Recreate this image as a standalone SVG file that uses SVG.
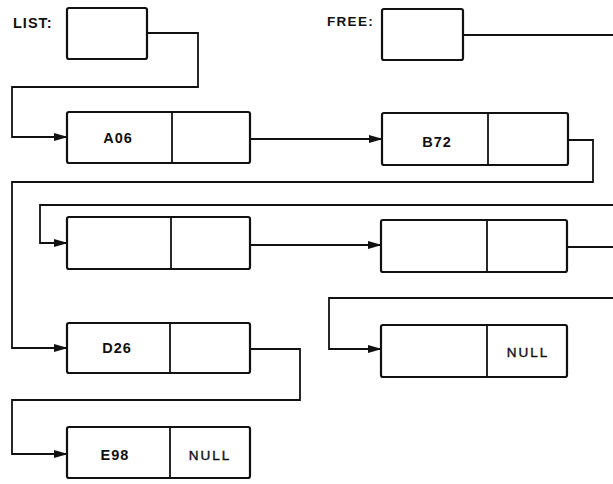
<svg xmlns="http://www.w3.org/2000/svg" width="613" height="484" viewBox="0 0 613 484">
<style>
.box{fill:#fff;stroke:#111;stroke-width:2.2}
.div{stroke:#111;stroke-width:1.8}
.conn{fill:none;stroke:#111;stroke-width:1.8}
.t{font-family:"Liberation Sans",Arial,sans-serif;font-size:14.5px;font-weight:bold;fill:#111;letter-spacing:1px}
.n{font-family:"Liberation Sans",Arial,sans-serif;font-size:13.5px;fill:#111;stroke:#111;stroke-width:0.4;letter-spacing:2px}
</style>
<defs>
<marker id="arr" markerWidth="14" markerHeight="9" refX="13" refY="4.5" orient="auto" markerUnits="userSpaceOnUse">
<path d="M0,0.5 L14,4.5 L0,8.5 Z" fill="#111"/>
</marker>
</defs>
<rect width="613" height="484" fill="#fff"/>
<g id="connectors">
<path class="conn" d="M147,33 H198 V87 H12 V137 H67" marker-end="url(#arr)"/>
<path class="conn" d="M463,35 H613"/>
<path class="conn" d="M250,139 H382" marker-end="url(#arr)"/>
<path class="conn" d="M568,140 H593 V182 H12 V348 H67" marker-end="url(#arr)"/>
<path class="conn" d="M613,205 H40 V243 H67" marker-end="url(#arr)"/>
<path class="conn" d="M250,245 H381" marker-end="url(#arr)"/>
<path class="conn" d="M567,247 H613"/>
<path class="conn" d="M613,298 H329 V349 H381" marker-end="url(#arr)"/>
<path class="conn" d="M250,349 H300 V400 H12 V454 H67" marker-end="url(#arr)"/>
</g>
<g id="list">
<text class="t" x="13" y="28" style="font-size:14.5px">LIST:</text>
<rect class="box" x="67" y="8" width="80" height="51" rx="2"/>
</g>
<g id="free">
<text class="t" x="327" y="26" style="font-size:13.5px;letter-spacing:1.3px">FREE:</text>
<rect class="box" x="382" y="9" width="81" height="51" rx="2"/>
</g>
<g id="node-a06">
<rect class="box" x="67" y="112" width="183" height="51" rx="2"/>
<line class="div" x1="172" y1="112" x2="172" y2="163"/>
<text class="t" x="118" y="143" text-anchor="middle">A06</text>
</g>
<g id="node-b72">
<rect class="box" x="382" y="113" width="186" height="52" rx="2"/>
<line class="div" x1="488" y1="113" x2="488" y2="165"/>
<text class="t" x="437" y="147" text-anchor="middle">B72</text>
</g>
<g id="node-free1">
<rect class="box" x="67" y="217" width="183" height="52" rx="2"/>
<line class="div" x1="171" y1="217" x2="171" y2="269"/>
</g>
<g id="node-free2">
<rect class="box" x="381" y="220" width="186" height="52" rx="2"/>
<line class="div" x1="487" y1="220" x2="487" y2="272"/>
</g>
<g id="node-free3">
<rect class="box" x="381" y="325" width="186" height="52" rx="2"/>
<line class="div" x1="487" y1="325" x2="487" y2="377"/>
<text class="n" x="528" y="357" text-anchor="middle">NULL</text>
</g>
<g id="node-d26">
<rect class="box" x="67" y="323" width="183" height="50" rx="2"/>
<line class="div" x1="170" y1="323" x2="170" y2="373"/>
<text class="t" x="117" y="353" text-anchor="middle">D26</text>
</g>
<g id="node-e98">
<rect class="box" x="67" y="427" width="183" height="51" rx="2"/>
<line class="div" x1="170" y1="427" x2="170" y2="478"/>
<text class="t" x="115" y="460" text-anchor="middle">E98</text>
<text class="n" x="210" y="460" text-anchor="middle">NULL</text>
</g>
</svg>
